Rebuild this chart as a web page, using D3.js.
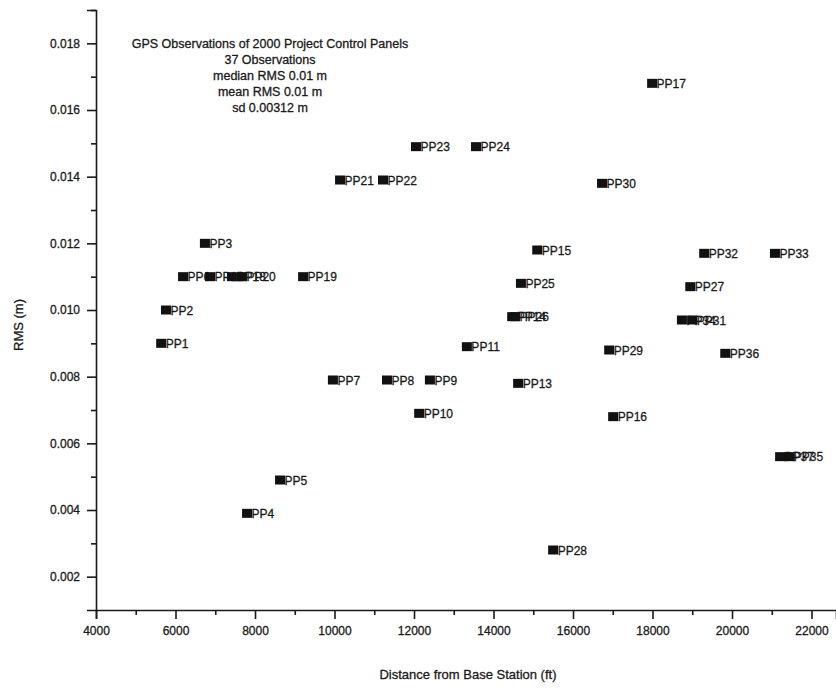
<!DOCTYPE html>
<html>
<head>
<meta charset="utf-8">
<script src="https://cdn.jsdelivr.net/npm/d3@7"></script>
<style>
  body { margin: 0; background: #fff; }
  text { font-family: "Liberation Sans", Arial, sans-serif; fill: #1a1a1a; stroke: #1a1a1a; stroke-width: 0.3; }
  .axis path, .axis line { stroke: #1a1a1a; stroke-width: 1.6; }
  .axis text { font-size: 12px; }
  .pt-label { font-size: 12px; }
  .label-text { font-size: 13px; }
  .note { font-size: 12.5px; }
</style>
</head>
<body>
<script>
// panel names, distance (ft) and RMS (m)
var panels = ["PP1", "PP2", "PP3", "PP6", "PP12", "PP18", "PP20", "PP19", "PP4", "PP5",
    "PP7", "PP8", "PP9", "PP10", "PP11", "PP13", "PP15", "PP25", "PP14", "PP26",
    "PP16", "PP17", "PP23", "PP24", "PP21", "PP22", "PP30", "PP32", "PP33", "PP27",
    "PP34", "PP31", "PP36", "PP29", "PP28", "PP37", "PP35"];
var distance = [5640, 5760, 6740, 6190, 6870, 7420, 7670, 9210, 7800, 8630,
    9960, 11320, 12400, 12130, 13330, 14620, 15100, 14690, 14470, 14540,
    17010, 17990, 12050, 13560, 10140, 11220, 16730, 19300, 21080, 18950,
    18740, 19000, 19830, 16910, 15500, 21210, 21440];
var rms = [0.0090, 0.0100, 0.0120, 0.0110, 0.0110, 0.0110, 0.0110, 0.0110, 0.0039, 0.0049,
    0.0079, 0.0079, 0.0079, 0.0069, 0.0089, 0.0078, 0.0118, 0.0108, 0.0098, 0.0098,
    0.0068, 0.0168, 0.0149, 0.0149, 0.0139, 0.0139, 0.0138, 0.0117, 0.0117, 0.0107,
    0.0097, 0.0097, 0.0087, 0.0088, 0.0028, 0.0056, 0.0056];

var xTicks = [4000, 6000, 8000, 10000, 12000, 14000, 16000, 18000, 20000, 22000];
var yTicks = [0.002, 0.004, 0.006, 0.008, 0.010, 0.012, 0.014, 0.016, 0.018];
var notes = ["GPS Observations of 2000 Project Control Panels", "37 Observations",
    "median RMS 0.01 m", "mean RMS 0.01 m", "sd 0.00312 m"];

var width = 836, height = 688;
var dataset = panels.map(function(p, i) {
    return {name: p, x: distance[i], y: rms[i]};
});

var svg = d3.select("body").append("svg")
    .attr("width", width)
    .attr("height", height);

var xScale = d3.scaleLinear()
    .domain([4000, 22616])
    .range([96, 836]);

var yScale = d3.scaleLinear()
    .domain([0.001, 0.019])
    .range([610, 10]);

// minor ticks first, majors on top
svg.append("g")
    .attr("class", "axis")
    .attr("transform", "translate(0,610)")
    .call(d3.axisBottom(xScale).tickValues(d3.range(5000, 22600, 2000)).tickSize(5).tickFormat(""))
    .select(".domain").remove();

svg.append("g")
    .attr("class", "axis")
    .attr("transform", "translate(0,610)")
    .call(d3.axisBottom(xScale).tickValues(xTicks).tickSizeOuter(0).tickSize(9).tickPadding(7)
        .tickFormat(d3.format("d")));

svg.append("g")
    .attr("class", "axis")
    .attr("transform", "translate(96,0)")
    .call(d3.axisLeft(yScale).tickValues([0.003, 0.005, 0.007, 0.009, 0.011, 0.013, 0.015, 0.017, 0.019])
        .tickSize(5).tickFormat(""))
    .select(".domain").remove();

svg.append("g")
    .attr("class", "axis")
    .attr("transform", "translate(96,0)")
    .call(d3.axisLeft(yScale).tickValues(yTicks).tickSizeOuter(0).tickSize(9).tickPadding(7)
        .tickFormat(d3.format(".3f")));

// markers and their labels
var pts = svg.selectAll(".pt")
    .data(dataset)
    .enter()
    .append("g")
    .attr("class", "pt")
    .attr("transform", function(d) { return "translate(" + xScale(d.x) + "," + yScale(d.y) + ")"; });

pts.append("rect")
    .attr("x", -5)
    .attr("y", -4.5)
    .attr("width", 10)
    .attr("height", 9)
    .attr("fill", "#111");

pts.append("text")
    .attr("class", "pt-label")
    .attr("x", 4.5)
    .attr("y", 4.5)
    .text(function(d) { return d.name; });

svg.selectAll(".note")
    .data(notes)
    .enter()
    .append("text")
    .attr("class", "note")
    .attr("text-anchor", "middle")
    .attr("x", 270)
    .attr("y", function(d, i) { return 48 + i * 16; })
    .text(function(d) { return d; });

svg.append("text")
    .attr("class", "label-text")
    .attr("x", 468)
    .attr("y", 679)
    .attr("text-anchor", "middle")
    .text("Distance from Base Station (ft)");

svg.append("text")
    .attr("class", "label-text")
    .attr("transform", "rotate(-90)")
    .attr("x", -325)
    .attr("y", 23)
    .attr("text-anchor", "middle")
    .text("RMS (m)");
</script>
</body>
</html>
